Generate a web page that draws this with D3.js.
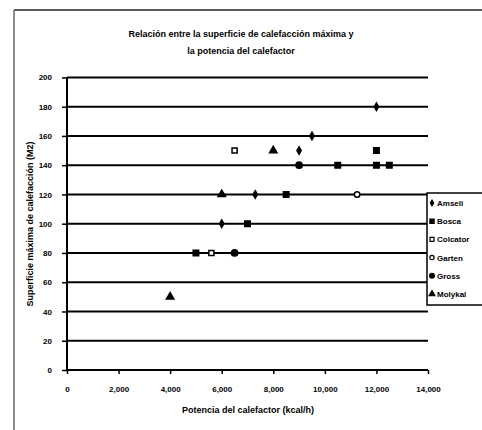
<!DOCTYPE html>
<html>
<head>
<meta charset="utf-8">
<script src="https://cdn.jsdelivr.net/npm/d3@7/dist/d3.min.js"></script>
<style>
  html, body { margin: 0; padding: 0; background: #fff; }
  svg { display: block; }
  text { font-family: "Liberation Sans", Arial, sans-serif; font-weight: bold; fill: #000; }
</style>
</head>
<body>
<svg id="chart" width="482" height="430"></svg>
<script>
// Heater data: power (kcal/h) against maximum heated area (M2), one list per brand
const seriesNames = ["Amseli", "Bosca", "Colcator", "Garten", "Gross", "Molykal"];
const amseliPower = [12000, 9500, 9000, 7300, 6000];
const amseliArea  = [180, 160, 150, 120, 100];
const boscaPower  = [12000, 10500, 12000, 12500, 8500, 7000, 5000];
const boscaArea   = [150, 140, 140, 140, 120, 100, 80];
const colcatorPower = [6500, 5600];
const colcatorArea  = [150, 80];
const gartenPower = [11250];
const gartenArea  = [120];
const grossPower  = [9000, 6500];
const grossArea   = [140, 80];
const molykalPower = [8000, 6000, 4000];
const molykalArea  = [150, 120, 50];

const xTicks = [0, 2000, 4000, 6000, 8000, 10000, 12000, 14000];
const yTicks = [0, 20, 40, 60, 80, 100, 120, 140, 160, 180, 200];

const titleLines = ["Relación entre la superficie de calefacción máxima y", "la potencia del calefactor"];
const xTitle = "Potencia del calefactor (kcal/h)";
const yTitle = "Superficie máxima de calefacción (M2)";

const powers = [amseliPower, boscaPower, colcatorPower, gartenPower, grossPower, molykalPower];
const areas  = [amseliArea, boscaArea, colcatorArea, gartenArea, grossArea, molykalArea];

const svg = d3.select("#chart");

// Outer chart frame
svg.append("line").attr("x1", 14).attr("y1", 10).attr("x2", 482).attr("y2", 10)
  .attr("stroke", "#222").attr("stroke-width", 1.5);
svg.append("line").attr("x1", 14).attr("y1", 10).attr("x2", 14).attr("y2", 430)
  .attr("stroke", "#666").attr("stroke-width", 1.5);

const plot = { left: 67, right: 428, top: 77.4, bottom: 370 };

const x = d3.scaleLinear().domain([0, 14000]).range([plot.left, plot.right]);
const y = d3.scaleLinear().domain([0, 200]).range([plot.bottom, plot.top]);

// Title
svg.append("g").selectAll("text").data(titleLines).join("text")
  .attr("x", 241).attr("y", (d, i) => 37 + i * 17)
  .attr("text-anchor", "middle").attr("font-size", 9)
  .text(d => d);

// Horizontal gridlines
svg.append("g").selectAll("line").data(yTicks.filter(v => v > 0)).join("line")
  .attr("x1", plot.left).attr("x2", plot.right)
  .attr("y1", d => y(d)).attr("y2", d => y(d))
  .attr("stroke", "#000").attr("stroke-width", 2);

// Axes
const xAxis = svg.append("g").attr("transform", `translate(0,${plot.bottom})`)
  .call(d3.axisBottom(x).tickValues(xTicks).tickSize(4).tickPadding(12)
    .tickFormat(d3.format(",")));
const yAxis = svg.append("g").attr("transform", `translate(${plot.left},0)`)
  .call(d3.axisLeft(y).tickValues(yTicks).tickSize(5).tickPadding(10));
[xAxis, yAxis].forEach(g => {
  g.select(".domain").attr("stroke", "#000").attr("stroke-width", 2);
  g.selectAll(".tick line").attr("stroke", "#000").attr("stroke-width", 1.5);
  g.selectAll("text").attr("font-size", 8).attr("font-family", "'Liberation Sans', Arial, sans-serif")
    .attr("font-weight", "bold").attr("fill", "#000");
});
xAxis.select(".domain").attr("d", `M${plot.left},0H${plot.right}`);
yAxis.select(".domain").attr("d", `M0,${plot.top}V${plot.bottom}`);

// Axis titles
svg.append("text").attr("x", 248).attr("y", 413).attr("text-anchor", "middle")
  .attr("font-size", 9).text(xTitle);
svg.append("text").attr("transform", `translate(33,224) rotate(-90)`)
  .attr("text-anchor", "middle").attr("font-size", 9).text(yTitle);

// Marker shapes per brand
const markerDefs = [
  { type: d3.symbolDiamond, size: 16, fill: "#000" },
  { type: d3.symbolSquare, size: 30, fill: "#000" },
  { type: d3.symbolSquare, size: 26, fill: "#fff" },
  { type: d3.symbolCircle, size: 24, fill: "#fff" },
  { type: d3.symbolCircle, size: 30, fill: "#000" },
  { type: d3.symbolTriangle, size: 24, fill: "#000" }
];

seriesNames.forEach((name, s) => {
  const pts = powers[s].map((p, i) => ({ p, a: areas[s][i] }));
  const m = markerDefs[s];
  svg.append("g").selectAll("path").data(pts).join("path")
    .attr("transform", d => `translate(${x(d.p)},${y(d.a)})`)
    .attr("d", d3.symbol().type(m.type).size(m.size))
    .attr("fill", m.fill).attr("stroke", "#000").attr("stroke-width", 1.5);
});

// Legend
const legend = svg.append("g").attr("transform", "translate(427,193)");
legend.append("rect").attr("x", 0).attr("y", 0).attr("width", 60).attr("height", 112)
  .attr("fill", "#fff").attr("stroke", "#000").attr("stroke-width", 1.5);
const items = legend.selectAll("g.item").data(seriesNames).join("g")
  .attr("class", "item")
  .attr("transform", (d, i) => `translate(0,${10 + i * 18.2})`);
items.append("path")
  .attr("transform", "translate(5,0)")
  .attr("d", (d, i) => d3.symbol().type(markerDefs[i].type).size(markerDefs[i].size * 0.6)())
  .attr("fill", (d, i) => markerDefs[i].fill).attr("stroke", "#000").attr("stroke-width", 1.2);
items.append("text").attr("x", 10).attr("y", 3).attr("font-size", 8).text(d => d);
</script>
</body>
</html>
